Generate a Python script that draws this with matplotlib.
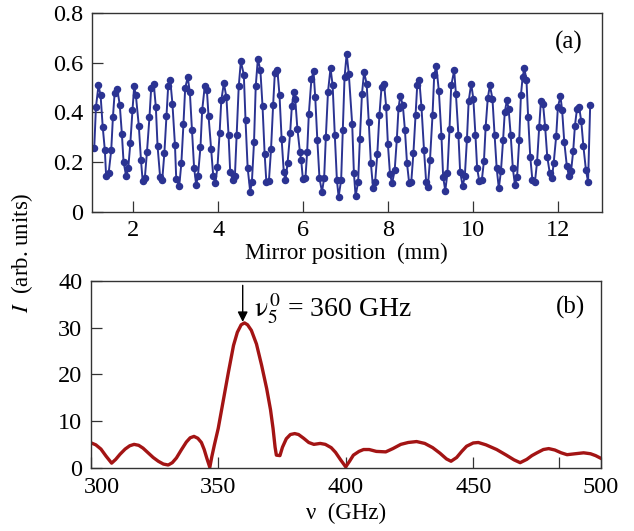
import matplotlib
matplotlib.use('Agg')
import matplotlib.pyplot as plt
from matplotlib.ticker import FixedLocator

plt.rcParams['font.family'] = ['Liberation Serif', 'DejaVu Serif']
plt.rcParams['mathtext.fontset'] = 'stix'

# (a) interferogram: mirror position (mm) and signal (arb. units)
mirror_mm = [
    1.08, 1.12, 1.18, 1.23, 1.28, 1.33, 1.36, 1.42, 1.48, 1.52, 1.56, 1.62, 1.68, 1.73, 1.77, 1.83,
    1.88, 1.93, 1.98, 2.02, 2.06, 2.13, 2.18, 2.22, 2.27, 2.32, 2.38, 2.42, 2.48, 2.53, 2.57, 2.63,
    2.68, 2.73, 2.78, 2.82, 2.87, 2.92, 2.98, 3.01,
    3.08, 3.13, 3.18, 3.22, 3.28, 3.33, 3.38, 3.43, 3.48, 3.52, 3.58, 3.62, 3.68, 3.73, 3.77, 3.83,
    3.88, 3.93, 3.98, 4.03, 4.07, 4.13, 4.19, 4.24, 4.28, 4.34, 4.39, 4.43, 4.48, 4.53, 4.60, 4.64,
    4.69, 4.75, 4.79, 4.84, 4.88, 4.93, 4.99, 5.04, 5.09,
    5.13, 5.19, 5.24, 5.29, 5.33, 5.39, 5.44, 5.49, 5.54, 5.58, 5.63, 5.69, 5.73, 5.78, 5.81, 5.86,
    5.92, 5.95, 5.99, 6.05, 6.09, 6.13, 6.19, 6.24, 6.28, 6.33, 6.38, 6.44, 6.49, 6.53, 6.58, 6.64,
    6.69, 6.74, 6.79, 6.83, 6.89, 6.93, 6.97, 7.02, 7.07,
    7.15, 7.19, 7.23, 7.29, 7.33, 7.38, 7.43, 7.49, 7.54, 7.59, 7.64, 7.69, 7.74, 7.79, 7.84, 7.90,
    7.95, 7.99, 8.04, 8.09, 8.15, 8.20, 8.24, 8.28, 8.34, 8.39, 8.44, 8.49, 8.54, 8.59, 8.64, 8.68,
    8.73, 8.78, 8.84, 8.89, 8.93, 8.98, 9.04, 9.08, 9.13,
    9.19, 9.25, 9.29, 9.34, 9.39, 9.44, 9.48, 9.55, 9.59, 9.65, 9.69, 9.75, 9.80, 9.85, 9.89, 9.95,
    10.00, 10.05, 10.09, 10.14, 10.20, 10.25, 10.29, 10.34, 10.39, 10.45, 10.50, 10.55, 10.60, 10.65,
    10.70, 10.74, 10.79, 10.83, 10.88, 10.93, 10.98, 11.03, 11.08, 11.12,
    11.16, 11.20, 11.25, 11.29, 11.34, 11.39, 11.45, 11.50, 11.55, 11.59, 11.64, 11.69, 11.74, 11.80,
    11.85, 11.89, 11.95, 11.99, 12.05, 12.09, 12.14, 12.20, 12.25, 12.30, 12.35, 12.39, 12.44, 12.49,
    12.54, 12.59, 12.65, 12.70, 12.75,
]
signal = [
    0.255, 0.420, 0.508, 0.468, 0.341, 0.248, 0.144, 0.157, 0.248, 0.381, 0.477, 0.495, 0.431, 0.315, 0.201, 0.145,
    0.175, 0.277, 0.408, 0.504, 0.468, 0.344, 0.208, 0.124, 0.135, 0.239, 0.381, 0.497, 0.515, 0.421, 0.265, 0.141,
    0.128, 0.235, 0.385, 0.505, 0.528, 0.435, 0.268, 0.131,
    0.104, 0.195, 0.355, 0.497, 0.541, 0.481, 0.328, 0.177, 0.108, 0.144, 0.261, 0.408, 0.504, 0.491, 0.385, 0.251,
    0.145, 0.115, 0.181, 0.317, 0.448, 0.517, 0.461, 0.311, 0.159, 0.128, 0.144, 0.308, 0.504, 0.605, 0.551, 0.368,
    0.177, 0.081, 0.121, 0.281, 0.504, 0.615, 0.568, 0.425, 0.233,
    0.121, 0.124, 0.251, 0.431, 0.559, 0.568, 0.468, 0.291, 0.161, 0.128, 0.197, 0.317, 0.425, 0.481, 0.452, 0.335,
    0.241, 0.208, 0.131, 0.137, 0.241, 0.395, 0.532, 0.565, 0.461, 0.288, 0.135, 0.081, 0.137, 0.301, 0.481, 0.577,
    0.508, 0.311, 0.128, 0.061, 0.128, 0.328, 0.541, 0.635, 0.555,
    0.352, 0.157, 0.064, 0.121, 0.291, 0.475, 0.561, 0.515, 0.361, 0.195, 0.097, 0.121, 0.231, 0.388, 0.501, 0.515,
    0.421, 0.272, 0.151, 0.115, 0.168, 0.291, 0.417, 0.465, 0.431, 0.331, 0.195, 0.117, 0.121, 0.235, 0.388, 0.508,
    0.528, 0.421, 0.248, 0.121, 0.101, 0.208, 0.388, 0.551, 0.585,
    0.484, 0.305, 0.141, 0.085, 0.155, 0.335, 0.508, 0.568, 0.475, 0.308, 0.161, 0.104, 0.144, 0.292, 0.444, 0.515,
    0.455, 0.308, 0.175, 0.124, 0.128, 0.204, 0.341, 0.457, 0.508, 0.455, 0.311, 0.175, 0.095, 0.164,
    0.288, 0.401, 0.448, 0.415, 0.308, 0.175, 0.108, 0.141, 0.288, 0.468,
    0.541, 0.577, 0.531, 0.381, 0.221, 0.128, 0.121, 0.201, 0.341, 0.444, 0.435, 0.341, 0.221, 0.155,
    0.135, 0.195, 0.304, 0.421, 0.465, 0.408, 0.281, 0.185, 0.144, 0.164, 0.244, 0.345, 0.415, 0.421,
    0.364, 0.264, 0.168, 0.121, 0.431,
]

# (b) spectrum: frequency (GHz) and intensity (arb. units)
freq_ghz = [
    300.0, 302.0, 304.0, 306.0, 308.2, 309.8, 311.5, 313.5, 315.3, 317.0, 318.8, 320.5, 322.5,
    324.5, 326.5, 328.5, 330.4, 332.0, 333.6, 335.5, 337.5, 339.0, 340.5, 342.0, 343.4, 344.5,
    345.5, 346.7, 347.5, 348.5, 350.0, 352.0, 354.0, 356.0, 357.5, 359.0, 360.3, 361.5, 363.0,
    365.0, 367.0, 369.0, 370.5, 371.5, 372.3, 372.8, 374.2, 375.2, 376.7, 378.3, 380.0, 381.5,
    383.5, 385.5, 387.5, 390.0, 392.0, 394.3, 396.0, 398.0, 400.0, 401.5, 403.0, 405.2, 407.0,
    409.2, 412.0, 415.7, 418.5, 421.6, 424.5, 427.8, 431.0, 434.1, 437.0, 439.5, 441.3, 443.5,
    445.5, 447.4, 450.0, 452.0, 455.0, 459.2, 463.0, 466.0, 468.4, 471.0, 473.0, 475.0, 477.5,
    479.6, 482.0, 484.5, 486.8, 490.0, 493.3, 496.0, 498.0, 499.8,
]
intensity = [
    5.45, 5.0, 4.1, 2.6, 1.1, 1.9, 3.0, 4.1, 4.8, 5.1, 4.9, 4.3, 3.3,
    2.3, 1.5, 0.9, 0.7, 1.2, 2.2, 3.9, 5.6, 6.5, 6.8, 6.4, 5.5, 4.0,
    2.2, 0.2, 2.5, 5.0, 8.5, 14.5, 20.5, 26.2, 29.0, 30.6, 31.0, 30.6, 29.4,
    26.5, 22.0, 17.0, 12.5, 8.5, 4.5, 2.8, 2.7, 4.5, 6.3, 7.2, 7.4, 7.2,
    6.4, 5.5, 5.1, 5.3, 5.1, 4.4, 3.4, 1.8, 0.3, 1.5, 2.8, 3.6, 4.0,
    4.0, 3.6, 3.5, 4.2, 5.1, 5.5, 5.7, 5.3, 4.4, 3.2, 2.0, 1.5, 2.3,
    3.6, 4.7, 5.4, 5.5, 5.0, 4.0, 2.8, 1.8, 1.2, 1.9, 2.7, 3.3, 4.0,
    4.2, 3.9, 3.3, 2.9, 3.1, 3.3, 3.1, 2.7, 2.2,
]

x_ticks_a = [2, 4, 6, 8, 10, 12]
y_ticks_a = [0, 0.2, 0.4, 0.6, 0.8]
y_labels_a = ['0', '0.2', '0.4', '0.6', '0.8']
x_ticks_b = [300, 350, 400, 450, 500]
x_labels_b = ['', '350', '400', '450', '500']
y_ticks_b = [0, 10, 20, 30, 40]

blue = '#2b3392'
red = '#a31414'
fs = 16.5
tfs = 17.5

fig = plt.figure(figsize=(6.34, 5.31), dpi=100)
ax1 = fig.add_axes([0.1446, 0.6008, 0.8044, 0.3753])
ax2 = fig.add_axes([0.1431, 0.1181, 0.8044, 0.3533])

ax1.plot(mirror_mm, signal, color=blue, lw=1.4, marker='o', ms=4.4,
         mfc=blue, mec=blue)
ax1.set_xlim(1.02, 13.02)
ax1.set_ylim(0, 0.8)
ax1.set_xticks(x_ticks_a)
ax1.set_yticks(y_ticks_a)
ax1.set_yticklabels(y_labels_a)
ax1.set_xlabel('Mirror position  (mm)', fontsize=fs, labelpad=1)
ax1.text(0.935, 0.85, '(a)', transform=ax1.transAxes, fontsize=18,
         ha='center', va='center')

ax2.plot(freq_ghz, intensity, color=red, lw=2.4, solid_joinstyle='round')
ax2.set_xlim(300, 500)
ax2.set_ylim(0, 40)
ax2.set_xticks(x_ticks_b)
ax2.set_xticklabels(x_labels_b)
ax2.set_yticks(y_ticks_b)
ax2.xaxis.set_minor_locator(FixedLocator([483.5]))
# first frequency label sits a bit to the right, clear of the "0"
ax2.annotate('300', xy=(300, 0), xycoords=('data', 'axes fraction'),
             xytext=(8, -6), textcoords='offset points', fontsize=tfs,
             ha='center', va='top')
ax2.set_xlabel('ν  (GHz)', fontsize=fs, labelpad=4)
ax2.text(0.940, 0.855, '(b)', transform=ax2.transAxes, fontsize=18,
         ha='center', va='center')
ax2.annotate('', xy=(359.6, 31.2), xytext=(359.6, 39.0),
             arrowprops=dict(arrowstyle='-|>', color='black', lw=1.0,
                             mutation_scale=15, shrinkA=0, shrinkB=0))
ax2.text(364, 32.4, r'$\mathrm{ν}_5^{\,0}$ = 360 GHz', fontsize=20,
         ha='left', va='baseline')

for ax in (ax1, ax2):
    ax.tick_params(which='both', direction='in', length=7.8, width=0.9,
                   labelsize=tfs, pad=6, top=False, right=False,
                   color='#333333')
    for sp in ax.spines.values():
        sp.set_color('#333333')
        sp.set_linewidth(1.0)

fig.text(0.034, 0.525, r'$I$  (arb. units)', rotation=90, fontsize=fs,
         ha='center', va='center')

fig.savefig('out.png', dpi=100)
